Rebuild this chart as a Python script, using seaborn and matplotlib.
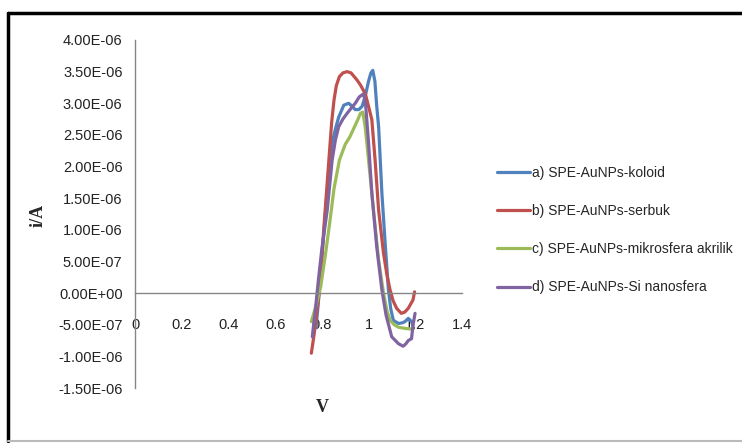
import numpy as np
import pandas as pd
import seaborn as sns
import matplotlib.pyplot as plt
from matplotlib.lines import Line2D
from matplotlib.ticker import FuncFormatter, MultipleLocator

# potential (V) and current (in 1e-6 A)
v_koloid = [0.775, 0.785, 0.80, 0.816, 0.83, 0.845, 0.86, 0.872, 0.894, 0.915, 0.93, 0.943,
            0.958, 0.972, 0.985, 1.0, 1.01, 1.018, 1.027, 1.035, 1.043, 1.057, 1.071, 1.085,
            1.095, 1.106, 1.128, 1.145, 1.156, 1.17, 1.184, 1.19]
i_koloid = [-0.55, -0.15, 0.55, 1.31, 1.95, 2.40, 2.62, 2.78, 2.97, 3.00, 2.95, 2.90,
            2.90, 2.95, 3.10, 3.35, 3.48, 3.52, 3.35, 2.95, 2.63, 1.58, 0.79, 0.05,
            -0.25, -0.43, -0.48, -0.47, -0.45, -0.40, -0.45, -0.52]

v_serbuk = [0.755, 0.767, 0.78, 0.79, 0.809, 0.83, 0.842, 0.852, 0.862, 0.875, 0.89, 0.908,
            0.925, 0.95, 0.965, 0.986, 1.0, 1.014, 1.028, 1.043, 1.064, 1.078, 1.092, 1.105,
            1.12, 1.14, 1.155, 1.17, 1.19, 1.197]
i_serbuk = [-0.95, -0.65, -0.25, 0.05, 1.05, 2.10, 2.70, 3.05, 3.28, 3.42, 3.48, 3.50,
            3.48, 3.37, 3.29, 3.15, 2.95, 2.74, 2.10, 1.31, 0.63, 0.30, 0.05, -0.12,
            -0.24, -0.32, -0.30, -0.24, -0.11, 0.02]

v_akrilik = [0.755, 0.775, 0.795, 0.815, 0.835, 0.852, 0.875, 0.9, 0.92, 0.94, 0.955, 0.965,
             0.975, 0.985, 1.0, 1.021, 1.043, 1.064, 1.08, 1.092, 1.11, 1.128, 1.16, 1.19]
i_akrilik = [-0.45, -0.20, 0.10, 0.60, 1.15, 1.65, 2.10, 2.35, 2.47, 2.63, 2.75, 2.84,
             2.86, 2.65, 2.10, 1.31, 0.52, 0.0, -0.30, -0.43, -0.50, -0.54, -0.56, -0.57]

v_si = [0.759, 0.772, 0.785, 0.80, 0.823, 0.844, 0.858, 0.872, 0.89, 0.908, 0.925, 0.943,
        0.96, 0.979, 0.988, 1.0, 1.014, 1.035, 1.057, 1.075, 1.099, 1.128, 1.148, 1.16,
        1.17, 1.184, 1.19, 1.199]
i_si = [-0.69, -0.27, 0.20, 0.70, 1.31, 2.10, 2.42, 2.63, 2.75, 2.84, 2.92, 3.00,
        3.10, 3.15, 2.95, 2.37, 1.58, 0.73, 0.05, -0.35, -0.69, -0.80, -0.84, -0.80,
        -0.75, -0.72, -0.51, -0.32]

labels = ["a) SPE-AuNPs-koloid", "b) SPE-AuNPs-serbuk",
          "c) SPE-AuNPs-mikrosfera akrilik", "d) SPE-AuNPs-Si nanosfera"]
colors = ["#4F81BD", "#C0504D", "#9BBB59", "#8064A2"]

frames = []
for lab, v, i in zip(labels, [v_koloid, v_serbuk, v_akrilik, v_si],
                     [i_koloid, i_serbuk, i_akrilik, i_si]):
    frames.append(pd.DataFrame({"V": v, "i": np.array(i) * 1e-6, "seri": lab}))
df = pd.concat(frames, ignore_index=True)

sns.set_style("white")
plt.rcParams["font.family"] = ["Liberation Sans", "DejaVu Sans"]

W, H = 742, 443
fig = plt.figure(figsize=(W / 100, H / 100), dpi=100)
ax = fig.add_axes([135 / W, 1 - 388 / H, 327 / W, 348 / H])

sns.lineplot(data=df, x="V", y="i", hue="seri", palette=colors, sort=False,
             estimator=None, linewidth=2.3, ax=ax)

ax.set_xlim(0, 1.4)
ax.set_ylim(-1.5e-6, 4e-6)
ax.xaxis.set_major_locator(MultipleLocator(0.2))
ax.yaxis.set_major_locator(MultipleLocator(0.5e-6))
ax.xaxis.set_major_formatter(FuncFormatter(lambda x, p: f"{x:g}"))
ax.yaxis.set_major_formatter(FuncFormatter(lambda y, p: f"{y:.2E}"))

for s in ["top", "right"]:
    ax.spines[s].set_visible(False)
ax.spines["bottom"].set_position(("data", 0))
for s in ["left", "bottom"]:
    ax.spines[s].set_color("#868686")
    ax.spines[s].set_linewidth(1)

ax.tick_params(axis="y", direction="out", length=3, width=1, color="#868686",
               pad=6, labelsize=10.5, labelcolor="#222222")
ax.tick_params(axis="x", direction="out", length=3, width=1, color="#868686",
               pad=15, labelsize=10.5, labelcolor="#222222")
ax.grid(False)

ax.set_xlabel("V", family="Liberation Serif", fontweight="bold", fontsize=13, va="center")
ax.set_ylabel("i/A", family="Liberation Serif", fontweight="bold", fontsize=13, va="center")
ax.xaxis.set_label_coords((322 - 135) / 327, (388 - 408) / 348)
ax.yaxis.set_label_coords((38 - 135) / 327, (388 - 215) / 348)

handles, labs = ax.get_legend_handles_labels()
ax.legend(handles, labs, loc="center left", bbox_to_anchor=(497 / W, 1 - 230 / H),
          bbox_transform=fig.transFigure, frameon=False, fontsize=10,
          handlelength=2.4, handletextpad=0.15, labelspacing=1.75,
          borderpad=0, borderaxespad=0)

# outer chart frame
fig.add_artist(Line2D([8 / W, 1], [1 - 13 / H, 1 - 13 / H], color="black", lw=2.5,
                      transform=fig.transFigure))
fig.add_artist(Line2D([8 / W, 8 / W], [1 - 13 / H, 1 - 441 / H], color="black", lw=2.5,
                      transform=fig.transFigure))
fig.add_artist(Line2D([8 / W, 1], [1 - 441 / H, 1 - 441 / H], color="#bbbbbb", lw=1.5,
                      transform=fig.transFigure))

fig.savefig("out.png", dpi=100)
